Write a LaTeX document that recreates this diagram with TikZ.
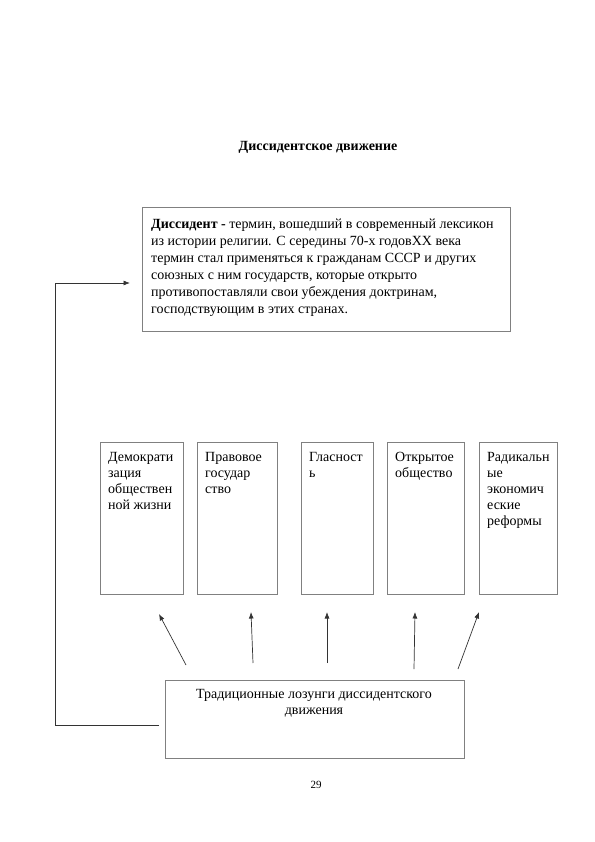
\documentclass[tikz,border=0pt]{standalone}
\usepackage{fontspec}
\setmainfont{Liberation Serif}
\usetikzlibrary{arrows.meta}
\definecolor{boxgray}{gray}{0.5}
\definecolor{linegray}{gray}{0.2}
\begin{document}
\begin{tikzpicture}[x=1pt,y=-1pt,
  frame/.style={draw=boxgray, line width=0.8pt, inner sep=0pt, anchor=north west, minimum height=152pt},
  txt/.style={inner sep=0pt, anchor=north west, align=left, font=\fontsize{14}{16}\selectfont},
  conn/.style={draw=linegray, line width=0.7pt},
  arr/.style={conn, -{Latex[length=6.5pt,width=5pt]}}]
\useasboundingbox (0,0) rectangle (594,842);
\node[font=\bfseries\fontsize{14}{16}\selectfont, inner sep=0pt] (title) at (318,147) {Диссидентское движение};
% definition box
\node[frame, minimum width=368pt, minimum height=124pt] (def) at (142,207) {};
\node[txt, font=\fontsize{14}{17}\selectfont] (deftext) at (151,219) {\textbf{Диссидент -} термин, вошедший в современный лексикон\\из истории религии. С середины 70-х годовXX века\\термин стал применяться к гражданам СССР и других\\союзных с ним государств, которые открыто\\противопоставляли свои убеждения доктринам,\\господствующим в этих странах.};
% slogan boxes
\node[frame, minimum width=83pt] (b1) at (100,442) {};
\node[frame, minimum width=80pt] (b2) at (197,442) {};
\node[frame, minimum width=72pt] (b3) at (301,442) {};
\node[frame, minimum width=77pt] (b4) at (387,442) {};
\node[frame, minimum width=78pt] (b5) at (479,442) {};
\node[txt] (t1) at (108,452) {Демократи\\зация\\обществен\\ной жизни};
\node[txt] (t2) at (205,452) {Правовое\\государ\\ство};
\node[txt] (t3) at (309,452) {Гласност\\ь};
\node[txt] (t4) at (395,452) {Открытое\\общество};
\node[txt] (t5) at (487,452) {Радикальн\\ые\\экономич\\еские\\реформы};
% bottom box
\node[frame, minimum width=299pt, minimum height=78pt] (bot) at (165,680) {};
\node[txt, anchor=north, align=center, font=\fontsize{14}{16.5}\selectfont] (bottext) at (314,689) {Традиционные лозунги диссидентского\\движения};
% page number
\node[inner sep=0pt, font=\fontsize{11}{13}\selectfont] (page) at (316,785) {29};
% arrows
\coordinate (a1s) at (186,665); \coordinate (a1e) at (159,614);
\coordinate (a2s) at (253,663); \coordinate (a2e) at (251,612);
\coordinate (a3s) at (327,663); \coordinate (a3e) at (327,612);
\coordinate (a4s) at (414,669); \coordinate (a4e) at (415,612);
\coordinate (a5s) at (458,669); \coordinate (a5e) at (479,612);
\draw[arr] (a1s) -- (a1e);
\draw[arr] (a2s) -- (a2e);
\draw[arr] (a3s) -- (a3e);
\draw[arr] (a4s) -- (a4e);
\draw[arr] (a5s) -- (a5e);
% feedback connector
\coordinate (l0) at (159,725);
\coordinate (l1) at (55,725);
\coordinate (l2) at (55,283);
\coordinate (l3) at (130,283);
\draw[arr] (l0) -- (l1) -- (l2) -- (l3);
\end{tikzpicture}
\end{document}
